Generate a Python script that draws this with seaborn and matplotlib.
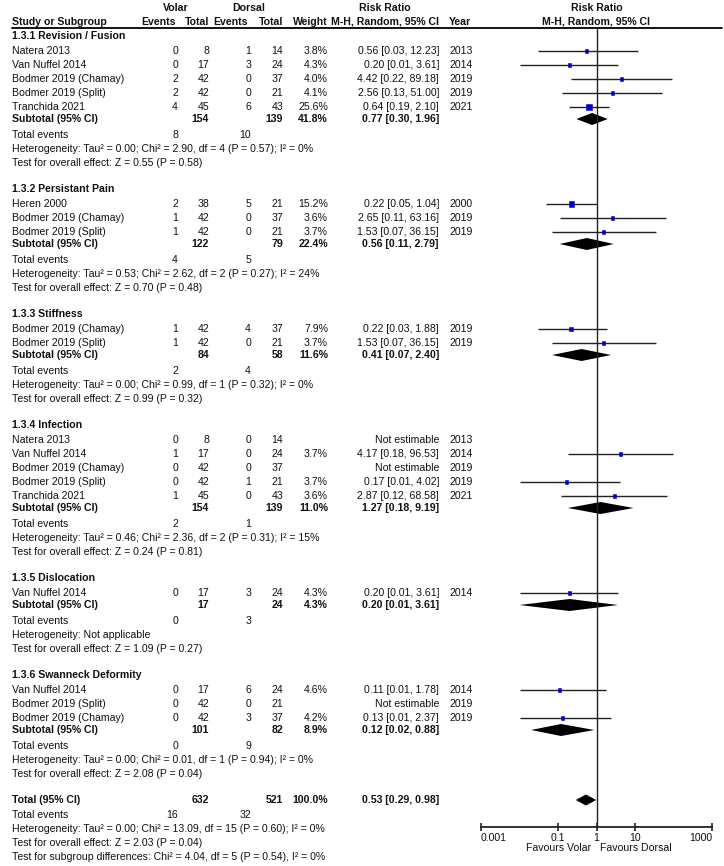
import pandas as pd
import matplotlib
matplotlib.use("Agg")
import matplotlib.pyplot as plt
import seaborn as sns

# ---- data ----
groups = ["1.3.1 Revision / Fusion", "1.3.2 Persistant Pain", "1.3.3 Stiffness",
          "1.3.4 Infection", "1.3.5 Dislocation", "1.3.6 Swanneck Deformity"]

study_group = [0, 0, 0, 0, 0, 1, 1, 1, 2, 2, 3, 3, 3, 3, 3, 4, 5, 5, 5]
study_name = ["Natera 2013", "Van Nuffel 2014", "Bodmer 2019 (Chamay)", "Bodmer 2019 (Split)", "Tranchida 2021",
              "Heren 2000", "Bodmer 2019 (Chamay)", "Bodmer 2019 (Split)",
              "Bodmer 2019 (Chamay)", "Bodmer 2019 (Split)",
              "Natera 2013", "Van Nuffel 2014", "Bodmer 2019 (Chamay)", "Bodmer 2019 (Split)", "Tranchida 2021",
              "Van Nuffel 2014",
              "Van Nuffel 2014", "Bodmer 2019 (Split)", "Bodmer 2019 (Chamay)"]
volar_events = [0, 0, 2, 2, 4, 2, 1, 1, 1, 1, 0, 1, 0, 0, 1, 0, 0, 0, 0]
volar_total = [8, 17, 42, 42, 45, 38, 42, 42, 42, 42, 8, 17, 42, 42, 45, 17, 17, 42, 42]
dorsal_events = [1, 3, 0, 0, 6, 5, 0, 0, 4, 0, 0, 0, 0, 1, 0, 3, 6, 0, 3]
dorsal_total = [14, 24, 37, 21, 43, 21, 37, 21, 37, 21, 14, 24, 37, 21, 43, 24, 24, 21, 37]
weight = [3.8, 4.3, 4.0, 4.1, 25.6, 15.2, 3.6, 3.7, 7.9, 3.7, None, 3.7, None, 3.7, 3.6, 4.3, 4.6, None, 4.2]
rr = [0.56, 0.20, 4.42, 2.56, 0.64, 0.22, 2.65, 1.53, 0.22, 1.53, None, 4.17, None, 0.17, 2.87, 0.20, 0.11, None, 0.13]
ci_lo = [0.03, 0.01, 0.22, 0.13, 0.19, 0.05, 0.11, 0.07, 0.03, 0.07, None, 0.18, None, 0.01, 0.12, 0.01, 0.01, None, 0.01]
ci_hi = [12.23, 3.61, 89.18, 51.00, 2.10, 1.04, 63.16, 36.15, 1.88, 36.15, None, 96.53, None, 4.02, 68.58, 3.61, 1.78, None, 2.37]
year = [2013, 2014, 2019, 2019, 2021, 2000, 2019, 2019, 2019, 2019, 2013, 2014, 2019, 2019, 2021, 2014, 2014, 2019, 2019]

sub_volar_total = [154, 122, 84, 154, 17, 101]
sub_dorsal_total = [139, 79, 58, 139, 24, 82]
sub_weight = [41.8, 22.4, 11.6, 11.0, 4.3, 8.9]
sub_rr = [0.77, 0.56, 0.41, 1.27, 0.20, 0.12]
sub_lo = [0.30, 0.11, 0.07, 0.18, 0.01, 0.02]
sub_hi = [1.96, 2.79, 2.40, 9.19, 3.61, 0.88]
sub_events_volar = [8, 4, 2, 2, 0, 0]
sub_events_dorsal = [10, 5, 4, 1, 3, 9]
sub_het = ["Heterogeneity: Tau² = 0.00; Chi² = 2.90, df = 4 (P = 0.57); I² = 0%",
           "Heterogeneity: Tau² = 0.53; Chi² = 2.62, df = 2 (P = 0.27); I² = 24%",
           "Heterogeneity: Tau² = 0.00; Chi² = 0.99, df = 1 (P = 0.32); I² = 0%",
           "Heterogeneity: Tau² = 0.46; Chi² = 2.36, df = 2 (P = 0.31); I² = 15%",
           "Heterogeneity: Not applicable",
           "Heterogeneity: Tau² = 0.00; Chi² = 0.01, df = 1 (P = 0.94); I² = 0%"]
sub_test = ["Test for overall effect: Z = 0.55 (P = 0.58)",
            "Test for overall effect: Z = 0.70 (P = 0.48)",
            "Test for overall effect: Z = 0.99 (P = 0.32)",
            "Test for overall effect: Z = 0.24 (P = 0.81)",
            "Test for overall effect: Z = 1.09 (P = 0.27)",
            "Test for overall effect: Z = 2.08 (P = 0.04)"]

total_volar, total_dorsal, total_weight = 632, 521, 100.0
total_rr, total_lo, total_hi = 0.53, 0.29, 0.98
total_events = (16, 32)
total_lines = ["Heterogeneity: Tau² = 0.00; Chi² = 13.09, df = 15 (P = 0.60); I² = 0%",
               "Test for overall effect: Z = 2.03 (P = 0.04)",
               "Test for subgroup differences: Chi² = 4.04, df = 5 (P = 0.54), I² = 0%"]

x_ticks = [0.001, 0.1, 1, 10, 1000]

# ---- layout (pixel grid of a 724x866 canvas) ----
W, H = 724, 866
X_NAME, X_VE, X_VT, X_DE, X_DT, X_W, X_RR, X_YR = 12, 178, 209, 251, 283, 328, 439, 449
FS = 7.6

sns.set_theme(style="white")
plt.rcParams["font.family"] = ["Liberation Sans", "DejaVu Sans"]

fig = plt.figure(figsize=(7.24, 8.66), dpi=100)
ax = fig.add_axes([0, 0, 1, 1])
ax.set_xlim(0, W)
ax.set_ylim(H, 0)
ax.axis("off")

axf = fig.add_axes([481 / W, 0, (712 - 481) / W, 1])
axf.set_xscale("log")
axf.set_xlim(x_ticks[0], x_ticks[-1])
axf.set_ylim(H, 0)
axf.patch.set_alpha(0)


def txt(x, y, s, ha="left", bold=False):
    ax.text(x, y, s, ha=ha, va="center", fontsize=FS,
            fontweight="bold" if bold else "normal", color="#111111")


# header
txt(176, 8, "Volar", "center", True)
txt(249, 8, "Dorsal", "center", True)
txt(385, 8, "Risk Ratio", "center", True)
txt(X_NAME, 22, "Study or Subgroup", bold=True)
txt(X_VE - 2, 22, "Events", "right", True)
txt(X_VT, 22, "Total", "right", True)
txt(X_DE - 3, 22, "Events", "right", True)
txt(X_DT, 22, "Total", "right", True)
txt(X_W, 22, "Weight", "right", True)
txt(X_RR, 22, "M-H, Random, 95% CI", "right", True)
txt(X_YR, 22, "Year", bold=True)
axf.text(1, 8, "Risk Ratio", ha="center", va="center", fontsize=FS, fontweight="bold", color="#111111")
axf.text(1, 22, "M-H, Random, 95% CI", ha="center", va="center", fontsize=FS, fontweight="bold",
         color="#111111")
ax.plot([X_NAME, 722], [28, 28], color="black", lw=1.3)

df = pd.DataFrame(dict(group=study_group, name=study_name, ve=volar_events, vt=volar_total,
                       de=dorsal_events, dtot=dorsal_total, weight=weight, rr=rr,
                       lo=ci_lo, hi=ci_hi, year=year))

y = 36
study_y = []
sub_y = []
for g, gname in enumerate(groups):
    txt(X_NAME, y, gname, bold=True)
    y += 15
    for i, r in df[df["group"] == g].iterrows():
        study_y.append(y)
        txt(X_NAME, y, r["name"])
        txt(X_VE, y, str(r["ve"]), "right")
        txt(X_VT, y, str(r["vt"]), "right")
        txt(X_DE, y, str(r["de"]), "right")
        txt(X_DT, y, str(r["dtot"]), "right")
        if pd.notna(r["rr"]):
            txt(X_W, y, f"{r['weight']:.1f}%", "right")
            txt(X_RR, y, f"{r['rr']:.2f} [{r['lo']:.2f}, {r['hi']:.2f}]", "right")
        else:
            txt(X_RR, y, "Not estimable", "right")
        txt(X_YR, y, str(r["year"]))
        y += 14
    y -= 2
    sub_y.append(y)
    txt(X_NAME, y, "Subtotal (95% CI)", bold=True)
    txt(X_VT, y, str(sub_volar_total[g]), "right", True)
    txt(X_DT, y, str(sub_dorsal_total[g]), "right", True)
    txt(X_W, y, f"{sub_weight[g]:.1f}%", "right", True)
    txt(X_RR, y, f"{sub_rr[g]:.2f} [{sub_lo[g]:.2f}, {sub_hi[g]:.2f}]", "right", True)
    y += 16
    txt(X_NAME, y, "Total events")
    txt(X_VE, y, str(sub_events_volar[g]), "right")
    txt(X_DE, y, str(sub_events_dorsal[g]), "right")
    y += 14
    txt(X_NAME, y, sub_het[g])
    y += 14
    txt(X_NAME, y, sub_test[g])
    y += 26

total_y = y
txt(X_NAME, y, "Total (95% CI)", bold=True)
txt(X_VT, y, str(total_volar), "right", True)
txt(X_DT, y, str(total_dorsal), "right", True)
txt(X_W, y, f"{total_weight:.1f}%", "right", True)
txt(X_RR, y, f"{total_rr:.2f} [{total_lo:.2f}, {total_hi:.2f}]", "right", True)
y += 15
txt(X_NAME, y, "Total events")
txt(X_VE, y, str(total_events[0]), "right")
txt(X_DE, y, str(total_events[1]), "right")
for line in total_lines:
    y += 14
    txt(X_NAME, y, line)

# ---- forest part ----
AXIS_Y = 827
df["y"] = study_y
est = df.dropna(subset=["rr"])
axf.hlines(est["y"], est["lo"], est["hi"], color="#222222", lw=1.0)
sns.scatterplot(data=est, x="rr", y="y", size="weight", sizes=(5, 22), marker="s",
                color="#0000CC", edgecolor="#0000CC", linewidth=0.4, legend=False, ax=axf, zorder=3)

diamonds = [(yy, c, lo, hi, 6) for yy, c, lo, hi in zip(sub_y, sub_rr, sub_lo, sub_hi)]
diamonds.append((total_y, total_rr, total_lo, total_hi, 5.5))
for yy, c, lo, hi, hh in diamonds:
    axf.fill([lo, c, hi, c], [yy, yy - hh, yy, yy + hh], color="black", lw=0)

axf.vlines(1, 28, AXIS_Y, color="#222222", lw=1.0)

for s in ["top", "left", "right"]:
    axf.spines[s].set_visible(False)
axf.spines["bottom"].set_position(("data", AXIS_Y))
axf.spines["bottom"].set_color("#222222")
axf.spines["bottom"].set_linewidth(1.3)
axf.set_yticks([])
axf.set_xticks(x_ticks)
axf.set_xticklabels(["0.001", "0.1", "1", "10", "1000"])
axf.minorticks_off()
axf.tick_params(axis="x", bottom=True, direction="inout", length=6, width=1.2,
                labelsize=FS, pad=1, colors="#222222", labelcolor="#111111")
axf.set_xlabel("")
axf.set_ylabel("")
labels = axf.get_xticklabels()
labels[0].set_ha("left")
labels[-1].set_ha("right")
axf.annotate("Favours Volar", xy=(1, 848), xytext=(-5, 0), textcoords="offset pixels",
             ha="right", va="center", fontsize=FS, color="#111111")
axf.annotate("Favours Dorsal", xy=(1, 848), xytext=(3, 0), textcoords="offset pixels",
             ha="left", va="center", fontsize=FS, color="#111111")

fig.savefig("out.png", dpi=100, facecolor="white")
